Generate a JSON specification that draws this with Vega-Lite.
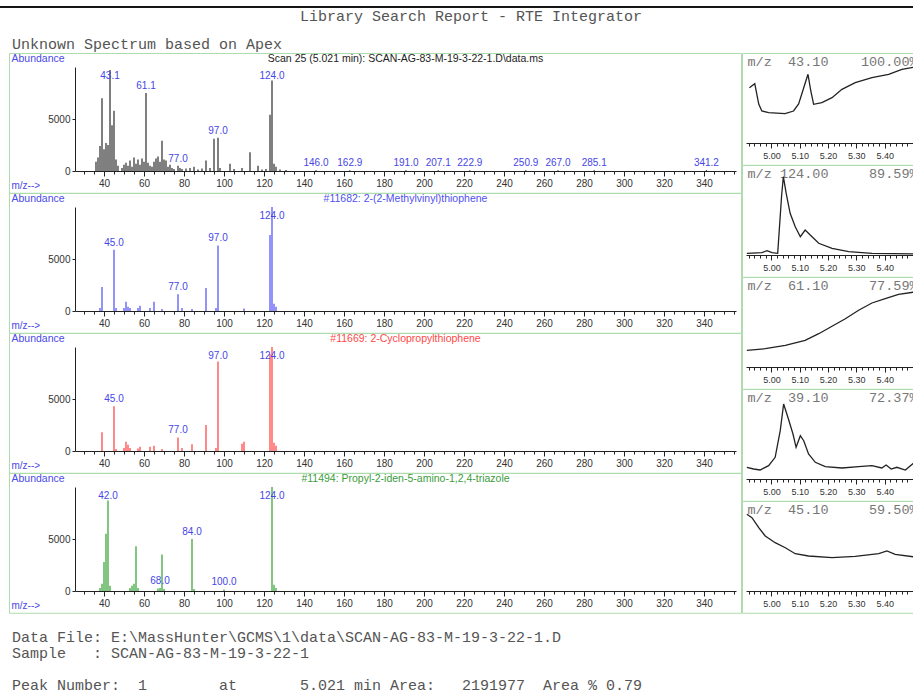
{
"$schema": "https://vega.github.io/schema/vega-lite/v6.json",
"background": "white",
"padding": {"left": 0, "top": 6, "right": 0, "bottom": 0},
"config": {
  "view": {"stroke": "#aedcae", "strokeWidth": 1},
  "font": "Liberation Sans",
  "axis": {"grid": false, "labelFont": "Liberation Sans", "titleFont": "Liberation Sans"},
  "title": {"font": "Liberation Sans", "fontWeight": "normal"},
  "concat": {"spacing": 0}
},
"datasets": {
  "unk": [
    {"mz": 36, "ab": 900}, {"mz": 37, "ab": 1300}, {"mz": 38, "ab": 2400}, {"mz": 39, "ab": 7000},
    {"mz": 40, "ab": 2100}, {"mz": 41, "ab": 2700}, {"mz": 42, "ab": 2500}, {"mz": 43, "ab": 9700, "label": "43.1"},
    {"mz": 44, "ab": 4400}, {"mz": 45, "ab": 5800}, {"mz": 46, "ab": 1100}, {"mz": 47, "ab": 500},
    {"mz": 49, "ab": 300}, {"mz": 50, "ab": 600}, {"mz": 51, "ab": 800}, {"mz": 52, "ab": 500},
    {"mz": 53, "ab": 1000}, {"mz": 54, "ab": 400}, {"mz": 55, "ab": 1300}, {"mz": 56, "ab": 700},
    {"mz": 57, "ab": 1100}, {"mz": 58, "ab": 600}, {"mz": 59, "ab": 1200}, {"mz": 60, "ab": 900},
    {"mz": 61, "ab": 7500, "label": "61.1"}, {"mz": 62, "ab": 800}, {"mz": 63, "ab": 500}, {"mz": 64, "ab": 400},
    {"mz": 65, "ab": 900}, {"mz": 66, "ab": 1200}, {"mz": 67, "ab": 1400}, {"mz": 68, "ab": 900},
    {"mz": 69, "ab": 2900}, {"mz": 70, "ab": 1100}, {"mz": 71, "ab": 1000}, {"mz": 72, "ab": 400},
    {"mz": 73, "ab": 600}, {"mz": 74, "ab": 300}, {"mz": 75, "ab": 200}, {"mz": 77, "ab": 500, "label": "77.0"},
    {"mz": 78, "ab": 300}, {"mz": 79, "ab": 200}, {"mz": 81, "ab": 250}, {"mz": 83, "ab": 300},
    {"mz": 85, "ab": 400}, {"mz": 87, "ab": 150}, {"mz": 89, "ab": 250}, {"mz": 91, "ab": 1000},
    {"mz": 93, "ab": 300}, {"mz": 95, "ab": 3100}, {"mz": 97, "ab": 3200, "label": "97.0"}, {"mz": 98, "ab": 300},
    {"mz": 103, "ab": 700}, {"mz": 105, "ab": 200}, {"mz": 109, "ab": 300}, {"mz": 113, "ab": 1800},
    {"mz": 117, "ab": 500}, {"mz": 119, "ab": 150}, {"mz": 121, "ab": 200}, {"mz": 123, "ab": 5400},
    {"mz": 124, "ab": 8700, "label": "124.0"}, {"mz": 125, "ab": 700}, {"mz": 126, "ab": 400}, {"mz": 128, "ab": 150},
    {"mz": 131, "ab": 100}, {"mz": 146, "ab": 80, "label": "146.0"}, {"mz": 162.9, "ab": 80, "label": "162.9"},
    {"mz": 191, "ab": 80, "label": "191.0"}, {"mz": 207.1, "ab": 80, "label": "207.1"}, {"mz": 222.9, "ab": 80, "label": "222.9"},
    {"mz": 250.9, "ab": 80, "label": "250.9"}, {"mz": 267, "ab": 80, "label": "267.0"}, {"mz": 285.1, "ab": 80, "label": "285.1"},
    {"mz": 341.2, "ab": 80, "label": "341.2"}
  ],
  "lib1": [
    {"mz": 38, "ab": 300}, {"mz": 39, "ab": 2300}, {"mz": 45, "ab": 5900, "label": "45.0"}, {"mz": 46, "ab": 300},
    {"mz": 50, "ab": 300}, {"mz": 51, "ab": 900}, {"mz": 52, "ab": 400}, {"mz": 53, "ab": 300},
    {"mz": 57, "ab": 300}, {"mz": 58, "ab": 500}, {"mz": 63, "ab": 300}, {"mz": 65, "ab": 900},
    {"mz": 69, "ab": 200}, {"mz": 77, "ab": 1600, "label": "77.0"}, {"mz": 79, "ab": 300}, {"mz": 84, "ab": 200},
    {"mz": 91, "ab": 2200}, {"mz": 96, "ab": 300}, {"mz": 97, "ab": 6300, "label": "97.0"}, {"mz": 110, "ab": 250},
    {"mz": 123, "ab": 7300}, {"mz": 124, "ab": 9999, "label": "124.0"}, {"mz": 125, "ab": 700}, {"mz": 126, "ab": 400}
  ],
  "lib2": [
    {"mz": 39, "ab": 1800}, {"mz": 45, "ab": 4300, "label": "45.0"}, {"mz": 46, "ab": 200}, {"mz": 50, "ab": 300},
    {"mz": 51, "ab": 900}, {"mz": 52, "ab": 600}, {"mz": 53, "ab": 300}, {"mz": 57, "ab": 250},
    {"mz": 58, "ab": 400}, {"mz": 63, "ab": 400}, {"mz": 65, "ab": 500}, {"mz": 69, "ab": 200},
    {"mz": 77, "ab": 1300, "label": "77.0"}, {"mz": 79, "ab": 300}, {"mz": 84, "ab": 650}, {"mz": 91, "ab": 2500},
    {"mz": 96, "ab": 300}, {"mz": 97, "ab": 8600, "label": "97.0"}, {"mz": 109, "ab": 700}, {"mz": 110, "ab": 900},
    {"mz": 123, "ab": 9300}, {"mz": 124, "ab": 9999, "label": "124.0"}, {"mz": 125, "ab": 800}, {"mz": 126, "ab": 500}
  ],
  "lib3": [
    {"mz": 38, "ab": 300}, {"mz": 39, "ab": 700}, {"mz": 40, "ab": 2800}, {"mz": 41, "ab": 5500},
    {"mz": 42, "ab": 8700, "label": "42.0"}, {"mz": 43, "ab": 500}, {"mz": 53, "ab": 300}, {"mz": 54, "ab": 500},
    {"mz": 55, "ab": 700}, {"mz": 56, "ab": 4300}, {"mz": 57, "ab": 300}, {"mz": 67, "ab": 250},
    {"mz": 68, "ab": 300, "label": "68.0"}, {"mz": 69, "ab": 3500}, {"mz": 70, "ab": 200}, {"mz": 84, "ab": 5000, "label": "84.0"},
    {"mz": 85, "ab": 200}, {"mz": 100, "ab": 150, "label": "100.0"}, {"mz": 124, "ab": 9999, "label": "124.0"},
    {"mz": 125, "ab": 600}, {"mz": 126, "ab": 300}
  ],
  "c43": [
    {"t": 4.922, "h": 55.3}, {"t": 4.941, "h": 59.3}, {"t": 4.955, "h": 39}, {"t": 4.966, "h": 32}, {"t": 4.99, "h": 30.3},
    {"t": 5.048, "h": 29.3}, {"t": 5.078, "h": 32}, {"t": 5.096, "h": 39}, {"t": 5.114, "h": 55.3}, {"t": 5.129, "h": 68.7},
    {"t": 5.139, "h": 52}, {"t": 5.149, "h": 38.7}, {"t": 5.178, "h": 40.3}, {"t": 5.214, "h": 45.3}, {"t": 5.249, "h": 53.7},
    {"t": 5.296, "h": 60.3}, {"t": 5.355, "h": 65.3}, {"t": 5.414, "h": 68.7}, {"t": 5.461, "h": 73.7}, {"t": 5.506, "h": 76}
  ],
  "c124": [
    {"t": 4.913, "h": 1.7}, {"t": 4.966, "h": 2.3}, {"t": 4.984, "h": 4.3}, {"t": 5.002, "h": 2.3}, {"t": 5.022, "h": 1.7},
    {"t": 5.036, "h": 60}, {"t": 5.042, "h": 78.3}, {"t": 5.052, "h": 61.7}, {"t": 5.066, "h": 41.7}, {"t": 5.084, "h": 28.3},
    {"t": 5.102, "h": 18.3}, {"t": 5.119, "h": 25}, {"t": 5.137, "h": 20}, {"t": 5.167, "h": 11.7}, {"t": 5.214, "h": 6.7},
    {"t": 5.273, "h": 3.3}, {"t": 5.355, "h": 1.7}, {"t": 5.506, "h": 1}
  ],
  "c61": [
    {"t": 4.913, "h": 16.7}, {"t": 4.978, "h": 18.3}, {"t": 5.049, "h": 21.7}, {"t": 5.119, "h": 26.7}, {"t": 5.167, "h": 33.3},
    {"t": 5.214, "h": 40.7}, {"t": 5.261, "h": 48.3}, {"t": 5.308, "h": 56.7}, {"t": 5.355, "h": 64}, {"t": 5.402, "h": 68.3},
    {"t": 5.449, "h": 72.7}, {"t": 5.506, "h": 75}
  ],
  "c39": [
    {"t": 4.913, "h": 11.7}, {"t": 4.937, "h": 10}, {"t": 4.96, "h": 9}, {"t": 4.99, "h": 13.3}, {"t": 5.013, "h": 21.7},
    {"t": 5.031, "h": 48.3}, {"t": 5.043, "h": 75}, {"t": 5.058, "h": 61.7}, {"t": 5.076, "h": 45}, {"t": 5.087, "h": 31.7},
    {"t": 5.102, "h": 43.3}, {"t": 5.114, "h": 38.3}, {"t": 5.131, "h": 25}, {"t": 5.155, "h": 16.7}, {"t": 5.19, "h": 12.3},
    {"t": 5.249, "h": 11}, {"t": 5.308, "h": 12.3}, {"t": 5.355, "h": 13.3}, {"t": 5.39, "h": 11}, {"t": 5.405, "h": 14},
    {"t": 5.423, "h": 10}, {"t": 5.443, "h": 11.7}, {"t": 5.473, "h": 9}, {"t": 5.506, "h": 16.7}
  ],
  "c45": [
    {"t": 4.913, "h": 76.7}, {"t": 4.931, "h": 73.3}, {"t": 4.955, "h": 63.3}, {"t": 4.978, "h": 55}, {"t": 5.013, "h": 48.3},
    {"t": 5.049, "h": 43.3}, {"t": 5.084, "h": 37.3}, {"t": 5.131, "h": 35}, {"t": 5.214, "h": 33.3}, {"t": 5.296, "h": 34.7},
    {"t": 5.379, "h": 37.3}, {"t": 5.408, "h": 40}, {"t": 5.437, "h": 36.7}, {"t": 5.506, "h": 34}
  ]
},
"spacing": 0,
"vconcat": [
  {"width": 913, "height": 2, "data": {"values": []}, "mark": "point", "view": {"fill": "#151515", "stroke": null}},
  {
    "title": {
      "text": "\u200b\u00a0\u00a0\u00a0\u00a0\u00a0\u00a0\u00a0\u00a0\u00a0\u00a0\u00a0\u00a0\u00a0\u00a0\u00a0\u00a0\u00a0\u00a0\u00a0\u00a0\u00a0\u00a0\u00a0\u00a0\u00a0\u00a0\u00a0\u00a0\u00a0\u00a0\u00a0\u00a0Library Search Report - RTE Integrator",
      "subtitle": "Unknown Spectrum based on Apex",
      "anchor": "start", "font": "Liberation Mono", "fontSize": 15, "color": "#555", "fontWeight": "normal",
      "subtitleFont": "Liberation Mono", "subtitleFontSize": 15, "subtitleColor": "#555", "subtitleFontWeight": "normal",
      "subtitlePadding": 13, "offset": 1, "dx": 12
    },
    "spacing": 0,
    "vconcat": [
      {
        "title": {
          "text": ["Data File: E:\\MassHunter\\GCMS\\1\\data\\SCAN-AG-83-M-19-3-22-1.D", "Sample\u00a0\u00a0\u00a0: SCAN-AG-83-M-19-3-22-1", "\u200b", "Peak Number:\u00a0\u00a01\u00a0\u00a0\u00a0\u00a0\u00a0\u00a0\u00a0\u00a0at\u00a0\u00a0\u00a0\u00a0\u00a0\u00a0\u00a05.021 min Area:\u00a0\u00a0\u00a02191977\u00a0\u00a0Area % 0.79"],
          "orient": "bottom", "anchor": "start", "font": "Liberation Mono", "fontSize": 15, "lineHeight": 16,
          "color": "#555", "fontWeight": "normal", "baseline": "top", "offset": 17, "dx": 12
        },
        "spacing": -1,
        "hconcat": [
          {"width": 9, "height": 10, "data": {"values": []}, "mark": "point", "view": {"stroke": null}},
          {
            "spacing": 0,
            "bounds": "flush",
            "vconcat": [
              {
                "width": 732, "height": 139.75,
                "data": {"name": "unk"},
                "encoding": {
                  "x": {"field": "mz", "type": "quantitative", "scale": {"domain": [25.5, 356], "range": [66, 727], "nice": false, "zero": false},
                    "axis": {"orient": "bottom", "offset": -21.75, "values": [30,35,40,45,50,55,60,65,70,75,80,85,90,95,100,105,110,115,120,125,130,135,140,145,150,155,160,165,170,175,180,185,190,195,200,205,210,215,220,225,230,235,240,245,250,255,260,265,270,275,280,285,290,295,300,305,310,315,320,325,330,335,340,345,350,355],
                      "labelExpr": "(round(datum.value / 20) * 20 == datum.value && datum.value >= 40 && datum.value <= 340) ? format(datum.value, 'd') : ''",
                      "tickSize": {"condition": {"test": "round(datum.value / 20) * 20 == datum.value", "value": 5}, "value": 3},
                      "labelOverlap": false, "labelFlush": false, "labelFontSize": 10, "labelColor": "#333", "labelPadding": 2,
                      "domainColor": "#222", "tickColor": "#222",
                      "title": "m/z-->", "titleX": 2, "titleY": 14, "titleAlign": "left", "titleBaseline": "middle", "titleColor": "#4a4ae8", "titleFontSize": 10, "titleFontWeight": "normal"}}
                },
                "layer": [
                  {"mark": {"type": "rule", "color": "#2b2b2b", "strokeWidth": 1.2},
                   "encoding": {
                     "y": {"field": "ab", "type": "quantitative", "scale": {"domain": [0, 10000], "range": [118, 14], "nice": false},
                       "axis": {"orient": "left", "offset": -66, "values": [0, 5000], "format": "d", "labelFontSize": 10, "labelColor": "#333", "labelPadding": 2, "tickSize": 3, "domainColor": "#222", "tickColor": "#222",
                         "title": "Abundance", "titleAngle": 0, "titleX": -64, "titleY": 5, "titleAlign": "left", "titleBaseline": "middle", "titleColor": "#4a4ae8", "titleFontSize": 10.5, "titleFontWeight": "normal"}},
                     "y2": {"datum": 0}}},
                  {"transform": [{"filter": "isValid(datum.label)"}],
                   "mark": {"type": "text", "color": "#4646e6", "fontSize": 10, "baseline": "bottom", "dy": -2},
                   "encoding": {
                     "y": {"field": "ab", "type": "quantitative", "scale": {"domain": [0, 8500], "range": [118, 29.6], "clamp": true, "nice": false},
                       "axis": {"orient": "right", "domain": false, "ticks": false, "labels": false, "title": "Scan 25 (5.021 min): SCAN-AG-83-M-19-3-22-1.D\\data.ms", "titleAngle": 0, "titleAlign": "center", "titleBaseline": "middle", "titleX": -336, "titleY": 5, "titleColor": "#222", "titleFontSize": 10.5, "titleFontWeight": "normal"}},
                     "text": {"field": "label"}}}
                ],
                "resolve": {"scale": {"y": "independent"}, "axis": {"y": "independent"}}
              },
              {
                "width": 732, "height": 139.75,
                "data": {"name": "lib1"},
                "encoding": {
                  "x": {"field": "mz", "type": "quantitative", "scale": {"domain": [25.5, 356], "range": [66, 727], "nice": false, "zero": false},
                    "axis": {"orient": "bottom", "offset": -21.75, "values": [30,35,40,45,50,55,60,65,70,75,80,85,90,95,100,105,110,115,120,125,130,135,140,145,150,155,160,165,170,175,180,185,190,195,200,205,210,215,220,225,230,235,240,245,250,255,260,265,270,275,280,285,290,295,300,305,310,315,320,325,330,335,340,345,350,355],
                      "labelExpr": "(round(datum.value / 20) * 20 == datum.value && datum.value >= 40 && datum.value <= 340) ? format(datum.value, 'd') : ''",
                      "tickSize": {"condition": {"test": "round(datum.value / 20) * 20 == datum.value", "value": 5}, "value": 3},
                      "labelOverlap": false, "labelFlush": false, "labelFontSize": 10, "labelColor": "#333", "labelPadding": 2,
                      "domainColor": "#222", "tickColor": "#222",
                      "title": "m/z-->", "titleX": 2, "titleY": 14, "titleAlign": "left", "titleBaseline": "middle", "titleColor": "#4a4ae8", "titleFontSize": 10, "titleFontWeight": "normal"}}
                },
                "layer": [
                  {"mark": {"type": "rule", "color": "#4a4af5", "strokeWidth": 1.2},
                   "encoding": {
                     "y": {"field": "ab", "type": "quantitative", "scale": {"domain": [0, 10000], "range": [118, 14], "nice": false},
                       "axis": {"orient": "left", "offset": -66, "values": [0, 5000], "format": "d", "labelFontSize": 10, "labelColor": "#333", "labelPadding": 2, "tickSize": 3, "domainColor": "#222", "tickColor": "#222",
                         "title": "Abundance", "titleAngle": 0, "titleX": -64, "titleY": 5, "titleAlign": "left", "titleBaseline": "middle", "titleColor": "#4a4ae8", "titleFontSize": 10.5, "titleFontWeight": "normal"}},
                     "y2": {"datum": 0}}},
                  {"transform": [{"filter": "isValid(datum.label)"}],
                   "mark": {"type": "text", "color": "#4646e6", "fontSize": 10, "baseline": "bottom", "dy": -2},
                   "encoding": {
                     "y": {"field": "ab", "type": "quantitative", "scale": {"domain": [0, 8500], "range": [118, 29.6], "clamp": true, "nice": false},
                       "axis": {"orient": "right", "domain": false, "ticks": false, "labels": false, "title": "#11682: 2-(2-Methylvinyl)thiophene", "titleAngle": 0, "titleAlign": "center", "titleBaseline": "middle", "titleX": -336, "titleY": 5, "titleColor": "#5050f0", "titleFontSize": 10.5, "titleFontWeight": "normal"}},
                     "text": {"field": "label"}}}
                ],
                "resolve": {"scale": {"y": "independent"}, "axis": {"y": "independent"}}
              },
              {
                "width": 732, "height": 139.75,
                "data": {"name": "lib2"},
                "encoding": {
                  "x": {"field": "mz", "type": "quantitative", "scale": {"domain": [25.5, 356], "range": [66, 727], "nice": false, "zero": false},
                    "axis": {"orient": "bottom", "offset": -21.75, "values": [30,35,40,45,50,55,60,65,70,75,80,85,90,95,100,105,110,115,120,125,130,135,140,145,150,155,160,165,170,175,180,185,190,195,200,205,210,215,220,225,230,235,240,245,250,255,260,265,270,275,280,285,290,295,300,305,310,315,320,325,330,335,340,345,350,355],
                      "labelExpr": "(round(datum.value / 20) * 20 == datum.value && datum.value >= 40 && datum.value <= 340) ? format(datum.value, 'd') : ''",
                      "tickSize": {"condition": {"test": "round(datum.value / 20) * 20 == datum.value", "value": 5}, "value": 3},
                      "labelOverlap": false, "labelFlush": false, "labelFontSize": 10, "labelColor": "#333", "labelPadding": 2,
                      "domainColor": "#222", "tickColor": "#222",
                      "title": "m/z-->", "titleX": 2, "titleY": 14, "titleAlign": "left", "titleBaseline": "middle", "titleColor": "#4a4ae8", "titleFontSize": 10, "titleFontWeight": "normal"}}
                },
                "layer": [
                  {"mark": {"type": "rule", "color": "#ff3b3b", "strokeWidth": 1.2},
                   "encoding": {
                     "y": {"field": "ab", "type": "quantitative", "scale": {"domain": [0, 10000], "range": [118, 14], "nice": false},
                       "axis": {"orient": "left", "offset": -66, "values": [0, 5000], "format": "d", "labelFontSize": 10, "labelColor": "#333", "labelPadding": 2, "tickSize": 3, "domainColor": "#222", "tickColor": "#222",
                         "title": "Abundance", "titleAngle": 0, "titleX": -64, "titleY": 5, "titleAlign": "left", "titleBaseline": "middle", "titleColor": "#4a4ae8", "titleFontSize": 10.5, "titleFontWeight": "normal"}},
                     "y2": {"datum": 0}}},
                  {"transform": [{"filter": "isValid(datum.label)"}],
                   "mark": {"type": "text", "color": "#4646e6", "fontSize": 10, "baseline": "bottom", "dy": -2},
                   "encoding": {
                     "y": {"field": "ab", "type": "quantitative", "scale": {"domain": [0, 8500], "range": [118, 29.6], "clamp": true, "nice": false},
                       "axis": {"orient": "right", "domain": false, "ticks": false, "labels": false, "title": "#11669: 2-Cyclopropylthiophene", "titleAngle": 0, "titleAlign": "center", "titleBaseline": "middle", "titleX": -336, "titleY": 5, "titleColor": "#ff4848", "titleFontSize": 10.5, "titleFontWeight": "normal"}},
                     "text": {"field": "label"}}}
                ],
                "resolve": {"scale": {"y": "independent"}, "axis": {"y": "independent"}}
              },
              {
                "width": 732, "height": 139.75,
                "data": {"name": "lib3"},
                "encoding": {
                  "x": {"field": "mz", "type": "quantitative", "scale": {"domain": [25.5, 356], "range": [66, 727], "nice": false, "zero": false},
                    "axis": {"orient": "bottom", "offset": -21.75, "values": [30,35,40,45,50,55,60,65,70,75,80,85,90,95,100,105,110,115,120,125,130,135,140,145,150,155,160,165,170,175,180,185,190,195,200,205,210,215,220,225,230,235,240,245,250,255,260,265,270,275,280,285,290,295,300,305,310,315,320,325,330,335,340,345,350,355],
                      "labelExpr": "(round(datum.value / 20) * 20 == datum.value && datum.value >= 40 && datum.value <= 340) ? format(datum.value, 'd') : ''",
                      "tickSize": {"condition": {"test": "round(datum.value / 20) * 20 == datum.value", "value": 5}, "value": 3},
                      "labelOverlap": false, "labelFlush": false, "labelFontSize": 10, "labelColor": "#333", "labelPadding": 2,
                      "domainColor": "#222", "tickColor": "#222",
                      "title": "m/z-->", "titleX": 2, "titleY": 14, "titleAlign": "left", "titleBaseline": "middle", "titleColor": "#4a4ae8", "titleFontSize": 10, "titleFontWeight": "normal"}}
                },
                "layer": [
                  {"mark": {"type": "rule", "color": "#2f9f2f", "strokeWidth": 1.2},
                   "encoding": {
                     "y": {"field": "ab", "type": "quantitative", "scale": {"domain": [0, 10000], "range": [118, 14], "nice": false},
                       "axis": {"orient": "left", "offset": -66, "values": [0, 5000], "format": "d", "labelFontSize": 10, "labelColor": "#333", "labelPadding": 2, "tickSize": 3, "domainColor": "#222", "tickColor": "#222",
                         "title": "Abundance", "titleAngle": 0, "titleX": -64, "titleY": 5, "titleAlign": "left", "titleBaseline": "middle", "titleColor": "#4a4ae8", "titleFontSize": 10.5, "titleFontWeight": "normal"}},
                     "y2": {"datum": 0}}},
                  {"transform": [{"filter": "isValid(datum.label)"}],
                   "mark": {"type": "text", "color": "#4646e6", "fontSize": 10, "baseline": "bottom", "dy": -2},
                   "encoding": {
                     "y": {"field": "ab", "type": "quantitative", "scale": {"domain": [0, 8500], "range": [118, 29.6], "clamp": true, "nice": false},
                       "axis": {"orient": "right", "domain": false, "ticks": false, "labels": false, "title": "#11494: Propyl-2-iden-5-amino-1,2,4-triazole", "titleAngle": 0, "titleAlign": "center", "titleBaseline": "middle", "titleX": -336, "titleY": 5, "titleColor": "#3c9c3c", "titleFontSize": 10.5, "titleFontWeight": "normal"}},
                     "text": {"field": "label"}}}
                ],
                "resolve": {"scale": {"y": "independent"}, "axis": {"y": "independent"}}
              }
            ]
          },
          {
            "spacing": 0,
            "bounds": "flush",
            "vconcat": [
              {
                "width": 173, "height": 111.8,
                "data": {"name": "c43"},
                "mark": {"type": "line", "color": "#222", "strokeWidth": 1.3},
                "encoding": {
                  "x": {"field": "t", "type": "quantitative", "scale": {"domain": [4.91, 5.51], "range": [4, 173.8], "nice": false, "zero": false},
                    "axis": {"orient": "bottom", "offset": -21.8, "values": [4.92,4.94,4.96,4.98,5.0,5.02,5.04,5.06,5.08,5.1,5.12,5.14,5.16,5.18,5.2,5.22,5.24,5.26,5.28,5.3,5.32,5.34,5.36,5.38,5.4,5.42,5.44,5.46,5.48,5.5],
                      "labelExpr": "(abs(datum.value*10 - round(datum.value*10)) < 0.001 && datum.value > 4.99 && datum.value < 5.41) ? format(datum.value, '.2f') : ''",
                      "tickSize": {"condition": {"test": "abs(datum.value*10 - round(datum.value*10)) < 0.001", "value": 5}, "value": 3},
                      "labelFontSize": 9, "labelColor": "#333", "labelPadding": 3, "labelOverlap": false, "labelFlush": false, "title": null, "domainColor": "#222", "tickColor": "#222"}},
                  "y": {"field": "h", "type": "quantitative", "scale": {"domain": [0, 80], "range": [90, 10], "nice": false},
                    "axis": {"orient": "left", "domain": false, "ticks": false, "labels": false, "title": "m/z\u00a0\u00a043.10\u00a0\u00a0\u00a0\u00a0100.00%", "titleAngle": 0, "titleAlign": "left", "titleBaseline": "middle", "titleX": 5, "titleY": 8, "titleFont": "Liberation Mono", "titleFontSize": 13.5, "titleColor": "#777", "titleFontWeight": "normal"}}
                }
              },
              {
                "width": 173, "height": 111.8,
                "data": {"name": "c124"},
                "mark": {"type": "line", "color": "#222", "strokeWidth": 1.3},
                "encoding": {
                  "x": {"field": "t", "type": "quantitative", "scale": {"domain": [4.91, 5.51], "range": [4, 173.8], "nice": false, "zero": false},
                    "axis": {"orient": "bottom", "offset": -21.8, "values": [4.92,4.94,4.96,4.98,5.0,5.02,5.04,5.06,5.08,5.1,5.12,5.14,5.16,5.18,5.2,5.22,5.24,5.26,5.28,5.3,5.32,5.34,5.36,5.38,5.4,5.42,5.44,5.46,5.48,5.5],
                      "labelExpr": "(abs(datum.value*10 - round(datum.value*10)) < 0.001 && datum.value > 4.99 && datum.value < 5.41) ? format(datum.value, '.2f') : ''",
                      "tickSize": {"condition": {"test": "abs(datum.value*10 - round(datum.value*10)) < 0.001", "value": 5}, "value": 3},
                      "labelFontSize": 9, "labelColor": "#333", "labelPadding": 3, "labelOverlap": false, "labelFlush": false, "title": null, "domainColor": "#222", "tickColor": "#222"}},
                  "y": {"field": "h", "type": "quantitative", "scale": {"domain": [0, 80], "range": [90, 10], "nice": false},
                    "axis": {"orient": "left", "domain": false, "ticks": false, "labels": false, "title": "m/z 124.00\u00a0\u00a0\u00a0\u00a0\u00a089.59%", "titleAngle": 0, "titleAlign": "left", "titleBaseline": "middle", "titleX": 5, "titleY": 8, "titleFont": "Liberation Mono", "titleFontSize": 13.5, "titleColor": "#777", "titleFontWeight": "normal"}}
                }
              },
              {
                "width": 173, "height": 111.8,
                "data": {"name": "c61"},
                "mark": {"type": "line", "color": "#222", "strokeWidth": 1.3},
                "encoding": {
                  "x": {"field": "t", "type": "quantitative", "scale": {"domain": [4.91, 5.51], "range": [4, 173.8], "nice": false, "zero": false},
                    "axis": {"orient": "bottom", "offset": -21.8, "values": [4.92,4.94,4.96,4.98,5.0,5.02,5.04,5.06,5.08,5.1,5.12,5.14,5.16,5.18,5.2,5.22,5.24,5.26,5.28,5.3,5.32,5.34,5.36,5.38,5.4,5.42,5.44,5.46,5.48,5.5],
                      "labelExpr": "(abs(datum.value*10 - round(datum.value*10)) < 0.001 && datum.value > 4.99 && datum.value < 5.41) ? format(datum.value, '.2f') : ''",
                      "tickSize": {"condition": {"test": "abs(datum.value*10 - round(datum.value*10)) < 0.001", "value": 5}, "value": 3},
                      "labelFontSize": 9, "labelColor": "#333", "labelPadding": 3, "labelOverlap": false, "labelFlush": false, "title": null, "domainColor": "#222", "tickColor": "#222"}},
                  "y": {"field": "h", "type": "quantitative", "scale": {"domain": [0, 80], "range": [90, 10], "nice": false},
                    "axis": {"orient": "left", "domain": false, "ticks": false, "labels": false, "title": "m/z\u00a0\u00a061.10\u00a0\u00a0\u00a0\u00a0\u00a077.59%", "titleAngle": 0, "titleAlign": "left", "titleBaseline": "middle", "titleX": 5, "titleY": 8, "titleFont": "Liberation Mono", "titleFontSize": 13.5, "titleColor": "#777", "titleFontWeight": "normal"}}
                }
              },
              {
                "width": 173, "height": 111.8,
                "data": {"name": "c39"},
                "mark": {"type": "line", "color": "#222", "strokeWidth": 1.3},
                "encoding": {
                  "x": {"field": "t", "type": "quantitative", "scale": {"domain": [4.91, 5.51], "range": [4, 173.8], "nice": false, "zero": false},
                    "axis": {"orient": "bottom", "offset": -21.8, "values": [4.92,4.94,4.96,4.98,5.0,5.02,5.04,5.06,5.08,5.1,5.12,5.14,5.16,5.18,5.2,5.22,5.24,5.26,5.28,5.3,5.32,5.34,5.36,5.38,5.4,5.42,5.44,5.46,5.48,5.5],
                      "labelExpr": "(abs(datum.value*10 - round(datum.value*10)) < 0.001 && datum.value > 4.99 && datum.value < 5.41) ? format(datum.value, '.2f') : ''",
                      "tickSize": {"condition": {"test": "abs(datum.value*10 - round(datum.value*10)) < 0.001", "value": 5}, "value": 3},
                      "labelFontSize": 9, "labelColor": "#333", "labelPadding": 3, "labelOverlap": false, "labelFlush": false, "title": null, "domainColor": "#222", "tickColor": "#222"}},
                  "y": {"field": "h", "type": "quantitative", "scale": {"domain": [0, 80], "range": [90, 10], "nice": false},
                    "axis": {"orient": "left", "domain": false, "ticks": false, "labels": false, "title": "m/z\u00a0\u00a039.10\u00a0\u00a0\u00a0\u00a0\u00a072.37%", "titleAngle": 0, "titleAlign": "left", "titleBaseline": "middle", "titleX": 5, "titleY": 8, "titleFont": "Liberation Mono", "titleFontSize": 13.5, "titleColor": "#777", "titleFontWeight": "normal"}}
                }
              },
              {
                "width": 173, "height": 111.8,
                "data": {"name": "c45"},
                "mark": {"type": "line", "color": "#222", "strokeWidth": 1.3},
                "encoding": {
                  "x": {"field": "t", "type": "quantitative", "scale": {"domain": [4.91, 5.51], "range": [4, 173.8], "nice": false, "zero": false},
                    "axis": {"orient": "bottom", "offset": -21.8, "values": [4.92,4.94,4.96,4.98,5.0,5.02,5.04,5.06,5.08,5.1,5.12,5.14,5.16,5.18,5.2,5.22,5.24,5.26,5.28,5.3,5.32,5.34,5.36,5.38,5.4,5.42,5.44,5.46,5.48,5.5],
                      "labelExpr": "(abs(datum.value*10 - round(datum.value*10)) < 0.001 && datum.value > 4.99 && datum.value < 5.41) ? format(datum.value, '.2f') : ''",
                      "tickSize": {"condition": {"test": "abs(datum.value*10 - round(datum.value*10)) < 0.001", "value": 5}, "value": 3},
                      "labelFontSize": 9, "labelColor": "#333", "labelPadding": 3, "labelOverlap": false, "labelFlush": false, "title": null, "domainColor": "#222", "tickColor": "#222"}},
                  "y": {"field": "h", "type": "quantitative", "scale": {"domain": [0, 80], "range": [90, 10], "nice": false},
                    "axis": {"orient": "left", "domain": false, "ticks": false, "labels": false, "title": "m/z\u00a0\u00a045.10\u00a0\u00a0\u00a0\u00a0\u00a059.50%", "titleAngle": 0, "titleAlign": "left", "titleBaseline": "middle", "titleX": 5, "titleY": 8, "titleFont": "Liberation Mono", "titleFontSize": 13.5, "titleColor": "#777", "titleFontWeight": "normal"}}
                }
              }
            ]
          }
        ]
      }
    ]
  }
]
}
